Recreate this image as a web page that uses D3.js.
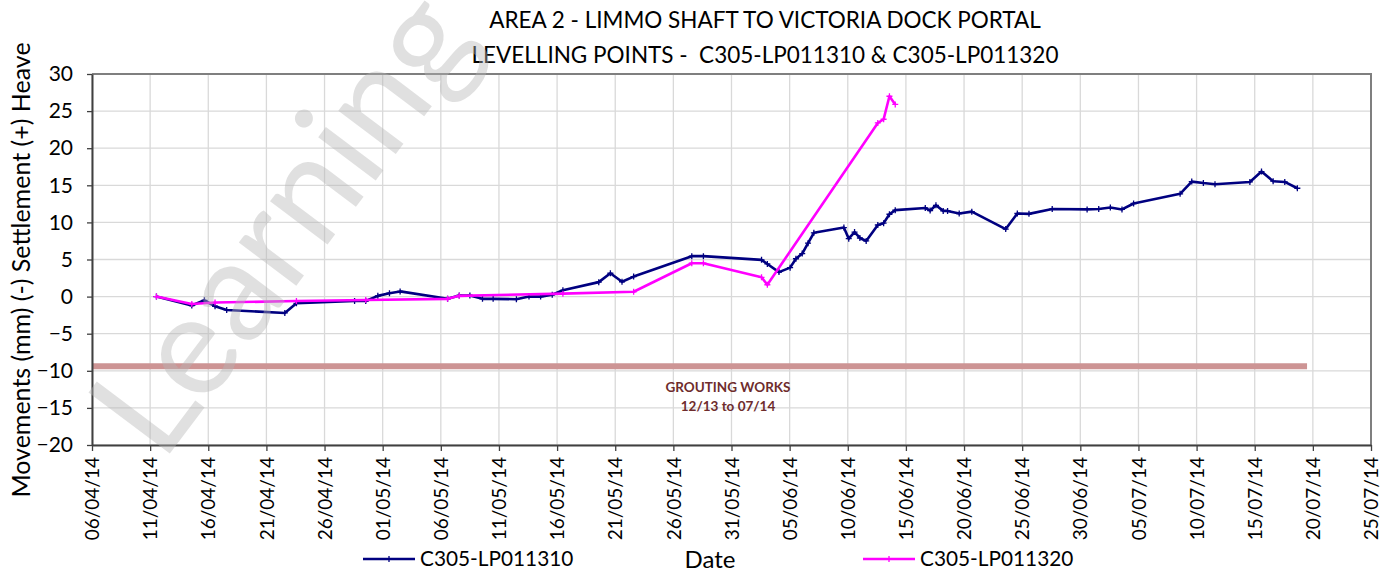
<!DOCTYPE html>
<html>
<head>
<meta charset="utf-8">
<script src="https://cdn.jsdelivr.net/npm/d3@7"></script>
<style>
	body { margin: 0; background: #ffffff; }
	svg { display: block; font-family: Lato, "Open Sans", sans-serif; }
	text { white-space: pre; }
</style>
</head>
<body>
<script>
// chart data
const titleLines = ["AREA 2 - LIMMO SHAFT TO VICTORIA DOCK PORTAL", "LEVELLING POINTS -  C305-LP011310 & C305-LP011320"];
const seriesNames = ["C305-LP011310", "C305-LP011320"];

const datesA = [
	"2014-04-11 13:00", "2014-04-14 14:00", "2014-04-15 16:00", "2014-04-16 14:00", "2014-04-17 14:00",
	"2014-04-22 14:00", "2014-04-23 14:00", "2014-04-28 14:00", "2014-04-29 13:00", "2014-04-30 14:00",
	"2014-05-01 14:00", "2014-05-02 12:00", "2014-05-06 14:00", "2014-05-07 14:00", "2014-05-08 12:00",
	"2014-05-09 14:00", "2014-05-10 12:00", "2014-05-12 12:00", "2014-05-13 14:00", "2014-05-14 14:00",
	"2014-05-15 14:00", "2014-05-16 12:00", "2014-05-19 14:00", "2014-05-20 14:00", "2014-05-21 14:00",
	"2014-05-22 14:00", "2014-05-27 14:00", "2014-05-28 14:00", "2014-06-02 14:00", "2014-06-03 02:00",
	"2014-06-04 02:00", "2014-06-05 01:00", "2014-06-05 13:00", "2014-06-06 02:00", "2014-06-06 14:00",
	"2014-06-07 02:00", "2014-06-09 16:00", "2014-06-10 02:00", "2014-06-10 14:00", "2014-06-11 01:00",
	"2014-06-11 14:00", "2014-06-12 14:00", "2014-06-13 02:00", "2014-06-13 14:00", "2014-06-14 02:00",
	"2014-06-16 16:00", "2014-06-17 02:00", "2014-06-17 14:00", "2014-06-18 05:00", "2014-06-18 14:00",
	"2014-06-19 14:00", "2014-06-20 16:00", "2014-06-23 14:00", "2014-06-24 14:00", "2014-06-25 14:00",
	"2014-06-27 14:00", "2014-06-30 14:00", "2014-07-01 14:00", "2014-07-02 14:00", "2014-07-03 14:00",
	"2014-07-04 14:00", "2014-07-08 14:00", "2014-07-09 14:00", "2014-07-10 14:00", "2014-07-11 14:00",
	"2014-07-14 14:00", "2014-07-15 14:00", "2014-07-16 14:00", "2014-07-17 14:00", "2014-07-18 16:00"
];
const valuesA = [
	0.0, -1.2, -0.5, -1.3, -1.8,
	-2.2, -0.9, -0.6, -0.6, 0.1,
	0.45, 0.7, -0.3, 0.15, 0.15,
	-0.3, -0.3, -0.35, 0.0, 0.0,
	0.25, 0.85, 1.95, 3.15, 2.0,
	2.7, 5.45, 5.45, 4.95, 4.4,
	3.3, 3.9, 5.1, 5.8, 7.2,
	8.6, 9.3, 7.8, 8.7, 7.9,
	7.5, 9.65, 9.9, 11.1, 11.65,
	11.95, 11.6, 12.3, 11.55, 11.55,
	11.2, 11.45, 9.1, 11.2, 11.15,
	11.8, 11.75, 11.8, 12.0, 11.75,
	12.55, 13.85, 15.5, 15.3, 15.15,
	15.45, 16.85, 15.55, 15.45, 14.6
];

const datesB = [
	"2014-04-11 13:00", "2014-04-14 14:00", "2014-04-16 14:00", "2014-04-23 14:00", "2014-04-29 13:00",
	"2014-05-06 14:00", "2014-05-07 14:00", "2014-05-16 12:00", "2014-05-22 14:00", "2014-05-27 14:00",
	"2014-05-28 14:00", "2014-06-02 14:00", "2014-06-03 02:00", "2014-06-12 14:00", "2014-06-13 02:00",
	"2014-06-13 14:00", "2014-06-14 02:00"
];
const valuesB = [
	0.0, -1.0, -0.8, -0.6, -0.45,
	-0.3, 0.1, 0.4, 0.65, 4.5,
	4.5, 2.6, 1.6, 23.4, 23.9,
	27.0, 25.9
];

// grouting works band
const groutDates = ["2014-04-06 00:00", "2014-07-19 12:00"];
const groutValue = -9.4;
const groutLabel = ["GROUTING WORKS", "12/13 to 07/14"];

const xTickLabels = [
	"06/04/14", "11/04/14", "16/04/14", "21/04/14", "26/04/14", "01/05/14", "06/05/14", "11/05/14",
	"16/05/14", "21/05/14", "26/05/14", "31/05/14", "05/06/14", "10/06/14", "15/06/14", "20/06/14",
	"25/06/14", "30/06/14", "05/07/14", "10/07/14", "15/07/14", "20/07/14", "25/07/14"
];
const yTicks = [-20, -15, -10, -5, 0, 5, 10, 15, 20, 25, 30];

const parseTime = d3.timeParse("%Y-%m-%d %H:%M");
const parseTick = d3.timeParse("%d/%m/%y");
const fmtTick = d3.timeFormat("%d/%m/%y");

const width = 1394, height = 572;
const plotLeft = 92, plotRight = 1371, plotTop = 74, plotBottom = 445;

const tickDates = xTickLabels.map(parseTick);

const xScale = d3.scaleTime()
	.domain([tickDates[0], tickDates[tickDates.length - 1]])
	.range([plotLeft, plotRight]);
const yScale = d3.scaleLinear()
	.domain([-20, 30])
	.range([plotBottom, plotTop]);

const svg = d3.select("body").append("svg")
	.attr("width", width)
	.attr("height", height);

// gridlines
svg.append("g")
	.selectAll("line")
	.data(tickDates)
	.enter().append("line")
		.attr("x1", d => xScale(d)).attr("x2", d => xScale(d))
		.attr("y1", plotTop).attr("y2", plotBottom)
		.attr("stroke", "#d9d9d9").attr("stroke-width", 1.3);
svg.append("g")
	.selectAll("line")
	.data(yTicks)
	.enter().append("line")
		.attr("x1", plotLeft).attr("x2", plotRight)
		.attr("y1", d => yScale(d)).attr("y2", d => yScale(d))
		.attr("stroke", "#d9d9d9").attr("stroke-width", 1.3);

// plot frame (top / right)
svg.append("path")
	.attr("d", `M${plotLeft},${plotTop}H${plotRight}V${plotBottom}`)
	.attr("fill", "none")
	.attr("stroke", "#7f7f7f")
	.attr("stroke-width", 2);

// grouting band
const gd = groutDates.map(parseTime);
svg.append("line")
	.attr("x1", xScale(gd[0])).attr("x2", xScale(gd[1]))
	.attr("y1", yScale(groutValue)).attr("y2", yScale(groutValue))
	.attr("stroke", "#cd9494")
	.attr("stroke-width", 6);
svg.append("text")
	.attr("x", 728).attr("y", 392)
	.attr("text-anchor", "middle")
	.attr("font-size", 13.5).attr("font-weight", "bold")
	.attr("fill", "#6e2c2c")
	.selectAll("tspan")
	.data(groutLabel)
	.enter().append("tspan")
		.attr("x", 728)
		.attr("dy", (d, i) => i ? 19 : 0)
		.text(d => d);

// axes
const xAxis = svg.append("g")
	.attr("transform", `translate(0, ${plotBottom})`)
	.call(d3.axisBottom(xScale).tickValues(tickDates).tickFormat(fmtTick).tickSize(6).tickSizeOuter(0));
xAxis.select(".domain").attr("stroke", "#404040").attr("stroke-width", 2);
xAxis.selectAll(".tick line").attr("stroke", "#404040").attr("stroke-width", 1.3);
xAxis.selectAll(".tick text")
	.attr("font-size", 19)
	.attr("fill", "#000")
	.attr("font-family", "Lato, 'Open Sans', sans-serif")
	.attr("transform", "rotate(-90)")
	.attr("text-anchor", "end")
	.attr("dx", "-12")
	.attr("dy", "0.35em")
	.attr("y", 0)
	.attr("x", 0);

const yAxis = svg.append("g")
	.attr("transform", `translate(${plotLeft}, 0)`)
	.call(d3.axisLeft(yScale).tickValues(yTicks).tickSize(5).tickSizeOuter(0));
yAxis.select(".domain").attr("stroke", "#404040").attr("stroke-width", 2);
yAxis.selectAll(".tick line").attr("stroke", "#404040").attr("stroke-width", 1.3);
yAxis.selectAll(".tick text")
	.attr("font-size", 21)
	.attr("fill", "#000")
	.attr("font-family", "Lato, 'Open Sans', sans-serif")
	.attr("x", -19);

// series lines
const seriesA = datesA.map((d, i) => ({ date: parseTime(d), val: valuesA[i] }));
const seriesB = datesB.map((d, i) => ({ date: parseTime(d), val: valuesB[i] }));
const line = d3.line().x(d => xScale(d.date)).y(d => yScale(d.val));

const series = [
	{ name: seriesNames[0], data: seriesA, colour: "#000080" },
	{ name: seriesNames[1], data: seriesB, colour: "#ff00ff" }
];

// magenta is drawn on top of navy
series.forEach(function(s) {
	svg.append("path")
		.datum(s.data)
		.attr("d", line)
		.attr("fill", "none")
		.attr("stroke", s.colour)
		.attr("stroke-width", 2.6)
		.attr("stroke-linejoin", "round");
	svg.append("g")
		.selectAll("path")
		.data(s.data)
		.enter().append("path")
			.attr("d", d => {
				const px = xScale(d.date), py = yScale(d.val);
				return `M${px - 3},${py}H${px + 3}M${px},${py - 3}V${py + 3}`;
			})
			.attr("stroke", s.colour)
			.attr("stroke-width", 1.3);
});

// titles
svg.append("g").selectAll("text")
	.data(titleLines)
	.enter().append("text")
		.attr("x", 765)
		.attr("y", (d, i) => 28 + i * 35)
		.attr("text-anchor", "middle")
		.attr("font-size", 22.5)
		.attr("fill", "#000")
		.text(d => d);

svg.append("text")
	.attr("transform", "translate(30, 270) rotate(-90)")
	.attr("text-anchor", "middle")
	.attr("font-size", 25)
	.attr("fill", "#000")
	.text("Movements (mm) (-) Settlement (+) Heave");

svg.append("text")
	.attr("x", 710).attr("y", 568)
	.attr("text-anchor", "middle")
	.attr("font-size", 24)
	.attr("fill", "#000")
	.text("Date");

// legend
const legendX = [363, 863];
series.forEach(function(s, i) {
	const g = svg.append("g").attr("transform", `translate(${legendX[i]}, 559)`);
	g.append("line").attr("x1", 0).attr("x2", 52).attr("y1", 0).attr("y2", 0)
		.attr("stroke", s.colour).attr("stroke-width", 2.6);
	g.append("path").attr("d", "M26,-3V3").attr("stroke", s.colour).attr("stroke-width", 1.3);
	g.append("text").attr("x", 57).attr("y", 7)
		.attr("font-size", 20.8)
		.attr("fill", "#000")
		.text(s.name);
});

// watermark
svg.append("text")
	.attr("transform", "translate(162, 464) rotate(-53)")
	.attr("font-size", 142)
	.attr("fill", "#b5b5b5")
	.attr("fill-opacity", 0.42)
	.text("Learning L");
</script>
</body>
</html>
